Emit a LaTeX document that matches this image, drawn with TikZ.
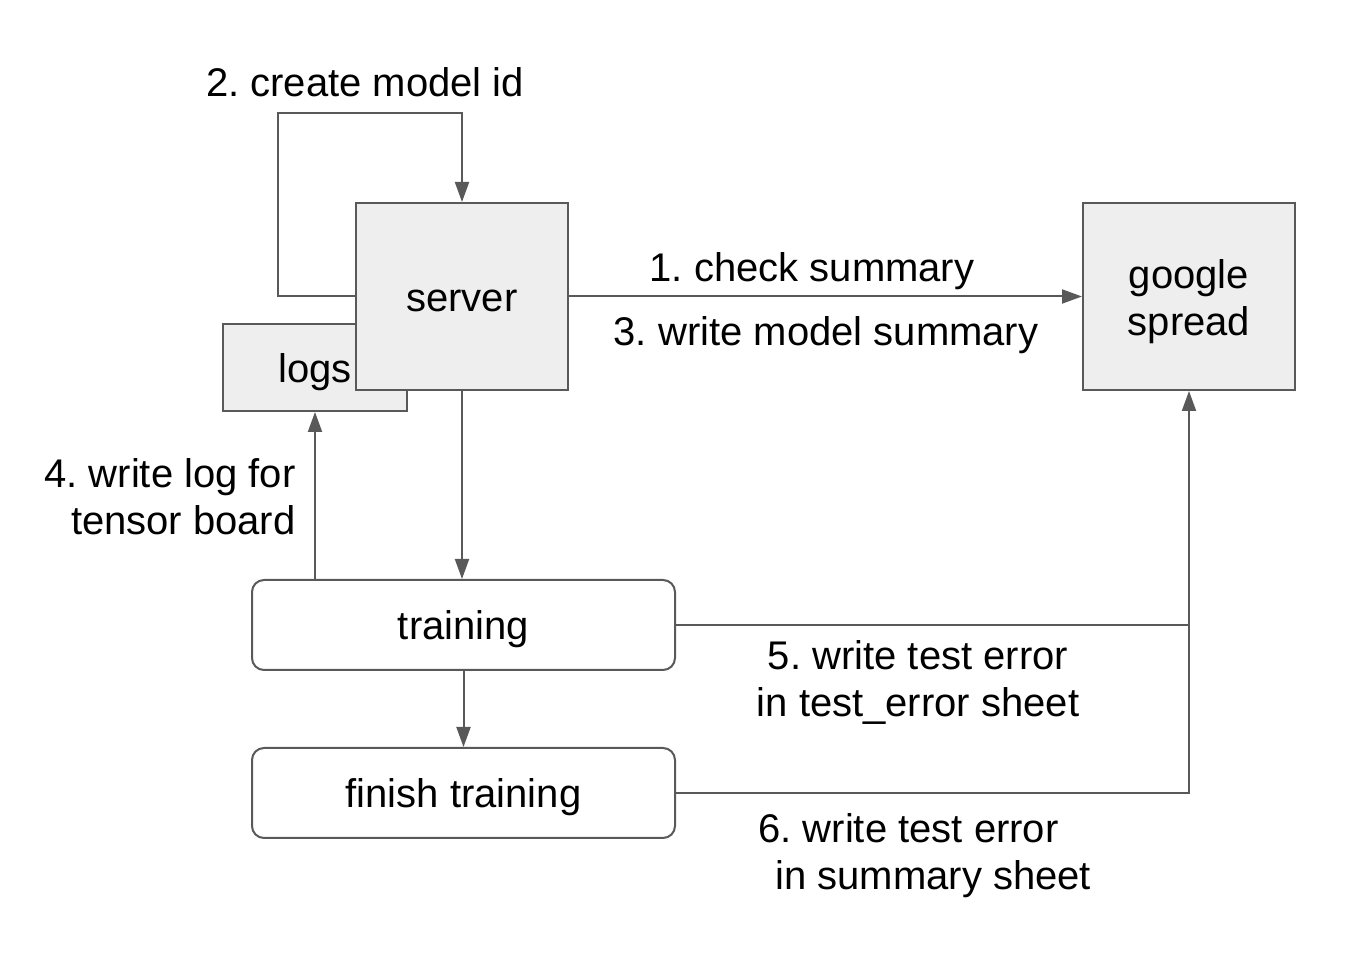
\documentclass[tikz,border=0pt]{standalone}
\usepackage{fontspec}
\setmainfont{Liberation Sans}
\usetikzlibrary{arrows.meta,positioning,calc}
\definecolor{lgray}{RGB}{89,89,89}
\definecolor{bfill}{RGB}{238,238,238}
\tikzset{
  sqbox/.style={draw=lgray, fill=bfill, line width=1pt, inner sep=0pt,
    text height=18pt, text depth=2.5pt},
  rbox/.style={draw=lgray, fill=white, line width=1pt, rounded corners=6pt,
    minimum width=211.5pt, minimum height=45pt, inner sep=0pt,
    text height=18pt, text depth=3pt},
  conn/.style={draw=lgray, line width=1pt},
  arr/.style={conn, -{Triangle[length=10pt, width=7pt]}},
  lbl/.style={inner sep=0pt, align=center},
}
\frenchspacing
\begin{document}
\begin{tikzpicture}[x=0.5pt, y=-0.5pt, font=\fontsize{20}{23.5}\selectfont]
\useasboundingbox (0,0) rectangle (1346,956);
% boxes
\node[sqbox, minimum width=92pt, minimum height=43.5pt] (logs) at (315,367.5) {logs};
\node[sqbox, minimum width=106pt, minimum height=93.5pt] (server) at (462,296.5) {server};
\node[sqbox, minimum width=106pt, minimum height=93.5pt, align=center,
  text height=, text depth=] (google) at (1189,296.5) {\rule{0pt}{20pt}google\\spread};
\node[rbox] (train) at (463.5,625) {training};
\node[rbox] (finish) at (463.5,793) {finish training};
\coordinate (loopc) at (278,113);
% connectors
\draw[arr] (server.west) -| (loopc) -| (server.north);
\draw[arr] (server.east) -- (google.west);
\draw[arr] (server.south) -- (server.south |- train.north);
\draw[arr] (train.south) -- (finish.north);
\draw[arr] (train.north -| logs.south) -- (logs.south);
\draw[conn] (train.east) -- (train.east -| google.south);
\draw[arr] (finish.east) -| (google.south);
% labels
\node[lbl] (l2) at (365,82) {2. create model id};
\node[lbl] (l1) at (812,271) {1. check summary};
\node[lbl] (l3) at (826,335) {3. write model summary};
\node[lbl, align=right, anchor=east] (l4) at (296,497) {4. write log for\\tensor board};
\node[lbl] (l5) at (918,682) {5. write test error\\in test\_error sheet};
\node[lbl, align=left, anchor=west] (l6) at (758,856) {6. write test error\\\hspace*{8.5pt}in summary sheet};
\end{tikzpicture}
\end{document}
